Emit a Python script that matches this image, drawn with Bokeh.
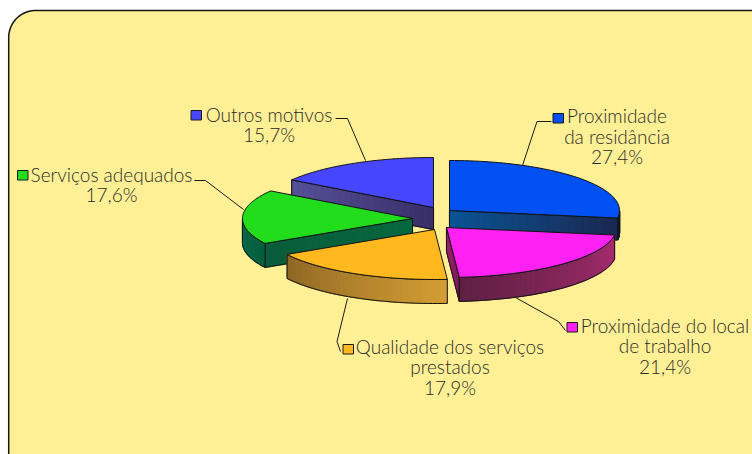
import numpy as np
from bokeh.plotting import figure
from bokeh.embed import file_html
from bokeh.resources import INLINE
from bokeh.core.properties import value

# ---- data
categories = ["Proximidade da residência", "Proximidade do local de trabalho",
              "Qualidade dos serviços prestados", "Serviços adequados", "Outros motivos"]
shares = [27.4, 21.4, 17.9, 17.6, 15.7]
share_labels = ["27,4%", "21,4%", "17,9%", "17,6%", "15,7%"]

# ---- style
top_colors = ["#0050F2", "#FF20F2", "#FFB81E", "#22DD1C", "#4646FF"]
# (left colour, right colour) of the outer rim and of the front radial face
rim_cols = [("#1A2B56", "#101C40"), ("#5E2042", "#A82C70"), ("#8C6624", "#D49E34"), ("#0A6E48", "#065E3E"), None]
face_cols = [("#0A5496", "#1A2850"), ("#A0226E", "#7A1C5C"), None, ("#0A5C3C", "#06683E"), ("#555098", "#382E68")]
face_end = [1, 1, None, 0, 0]   # which radius of the slice shows its face: 0 = start, 1 = end
apex = [(449, 210), (446, 227), (434, 229), (412, 218), (433, 207)]
depth = [22, 24, 24, 24, 22]
RX, RY = 170, 50
BG = "#FFF096"
EDGE = "#141414"
FONT = value("Lato Light")
TXT = "#2B2B2B"
FS = "19px"

p = figure(width=752, height=454, x_range=(0, 752), y_range=(454, 0),
           output_backend="svg", toolbar_location=None, min_border=0,
           x_axis_location=None, y_axis_location=None,
           background_fill_color="#FFFFFF", border_fill_color="#FFFFFF")
p.grid.visible = False
p.outline_line_color = None

# rounded panel, running off the window at right and bottom
r = 27
L, T, R, B = 8.2, 10, 790, 490
a = np.linspace(0, np.pi / 2, 24)
px = []
py = []
for (cx, cy, s) in [(L + r, T + r, np.pi), (R - r, T + r, 1.5 * np.pi), (R - r, B - r, 0), (L + r, B - r, .5 * np.pi)]:
    px += list(cx + r * np.cos(s + a))
    py += list(cy + r * np.sin(s + a))
p.patch(px, py, fill_color=BG, line_color=EDGE, line_width=1.5)

angles = np.cumsum([0] + shares) * 3.6


def rim(t, c):
    t = np.radians(t)
    return c[0] + RX * np.sin(t), c[1] - RY * np.cos(t)


def mix(c1, c2, f):
    a1 = [int(c1[i:i + 2], 16) for i in (1, 3, 5)]
    a2 = [int(c2[i:i + 2], 16) for i in (1, 3, 5)]
    return "#%02x%02x%02x" % tuple(int(round(u + (v - u) * f)) for u, v in zip(a1, a2))


def strips(xs, ys, d, cols):
    n = len(xs) - 1
    X, Y, C = [], [], []
    for k in range(n):
        X.append([xs[k], xs[k + 1], xs[k + 1], xs[k]])
        Y.append([ys[k], ys[k + 1], ys[k + 1] + d, ys[k] + d])
        C.append(mix(cols[0], cols[1], (k + .5) / n))
    p.patches(X, Y, fill_color=C, line_color=C, line_width=1.2)
    outline_x = list(xs) + list(xs[::-1]) + [xs[0]]
    outline_y = list(ys) + [y + d for y in ys[::-1]] + [ys[0]]
    p.line(outline_x, outline_y, line_color=EDGE, line_width=1)


for i in [4, 0, 3, 2, 1]:
    t0, t1 = angles[i], angles[i + 1]
    c = apex[i]
    d = depth[i]
    # radial face
    if face_cols[i] is not None:
        xe, ye = rim(t1 if face_end[i] else t0, c)
        fr = np.linspace(0, 1, 25)
        xs = c[0] + (xe - c[0]) * fr
        ys = c[1] + (ye - c[1]) * fr
        order = np.argsort(xs)
        strips(xs[order], ys[order], d, face_cols[i])
    # outer wall (front half only)
    lo, hi = max(t0, 90), min(t1, 270)
    if rim_cols[i] is not None and hi > lo:
        tt = np.linspace(lo, hi, 40)
        xs, ys = rim(tt, c)
        order = np.argsort(xs)
        strips(xs[order], ys[order], d, rim_cols[i])
    # top
    tt = np.linspace(t0, t1, 60)
    xs, ys = rim(tt, c)
    p.patch([c[0]] + list(xs), [c[1]] + list(ys), fill_color=top_colors[i], line_color=EDGE, line_width=1)

# ---- leader lines
leaders = [
    ([522, 536.5, 551], [165, 121, 121]),
    ([515, 558, 565], [297, 321, 330]),
    ([347, 336.5, 340], [298, 341, 351]),
    ([243, 205, 194], [209, 180, 180]),
    ([365, 347, 335], [160, 118, 118]),
]
for lx, ly in leaders:
    p.line(lx, ly, line_color="#1A1A1A", line_width=1)

# ---- labels
label_lines = [["Proximidade", "da residância", share_labels[0]],
               ["Proximidade do local", "de trabalho", share_labels[1]],
               ["Qualidade dos serviços", "prestados", share_labels[2]],
               ["Serviços adequados", share_labels[3]],
               ["Outros motivos", share_labels[4]]]
label_cx = [616.5, 664.5, 449.5, 111, 268.5]
label_top = [115, 324.5, 345.5, 173.5, 113.5]
key_x = [552.5, 566.5, 342.5, 17, 190.5]
key_y = [113, 322, 344, 170, 110]
LH = 20.7
for i, lines in enumerate(label_lines):
    for j, s in enumerate(lines):
        p.text([label_cx[i]], [label_top[i] + j * LH], text=[s], text_font=FONT, text_font_size=FS,
               text_color=TXT, text_align="center", text_baseline="middle")
    p.quad(left=[key_x[i]], right=[key_x[i] + 10.5], top=[key_y[i]], bottom=[key_y[i] + 9.5],
           fill_color=top_colors[i], line_color="#1A1A1A", line_width=1)

open("out.html", "w").write(file_html(p, INLINE))
